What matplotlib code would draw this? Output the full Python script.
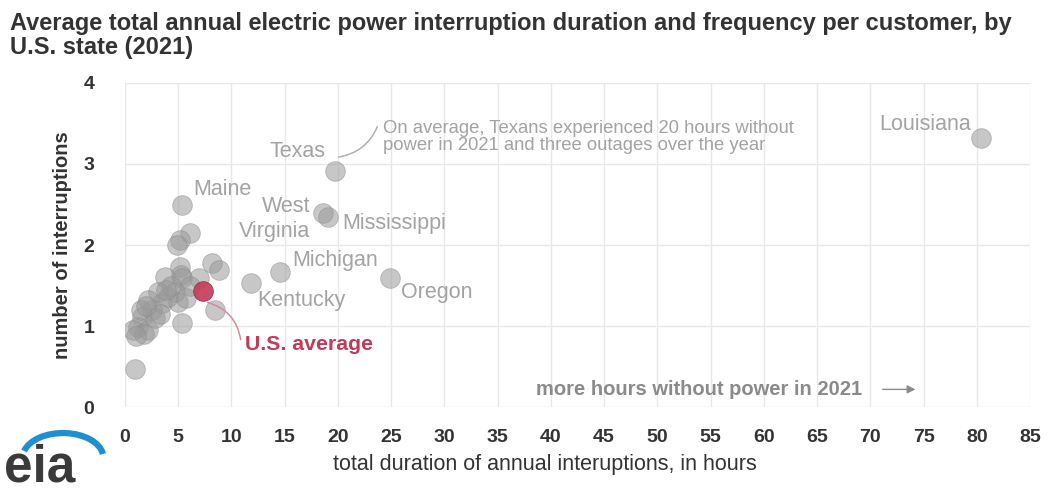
import numpy as np
import matplotlib
matplotlib.use("Agg")
import matplotlib.pyplot as plt
from matplotlib.patches import Arc

plt.rcParams['font.family'] = ['Liberation Sans', 'DejaVu Sans']

# labeled states: hours, interruptions
label_names = ["Louisiana", "Texas", "West\nVirginia", "Mississippi", "Maine",
               "Michigan", "Kentucky", "Oregon"]
label_hours = [80.4, 19.7, 18.6, 19.1, 5.4, 14.6, 11.8, 24.9]
label_counts = [3.32, 2.91, 2.39, 2.35, 2.49, 1.67, 1.53, 1.59]

# remaining states (unlabeled)
other_hours = [6.1, 5.2, 4.9, 5.2, 5.3, 8.2, 8.8, 3.8, 5.4, 7.0, 6.1, 4.7, 3.1,
               2.2, 3.5, 5.0, 8.5, 5.4, 1.6, 1.2, 2.2, 0.75, 2.5, 4.0, 0.9, 1.8,
               2.8, 3.3, 1.5, 4.3, 2.0, 1.0, 3.9, 5.7]
other_counts = [2.15, 2.06, 2.0, 1.73, 1.63, 1.78, 1.69, 1.6, 1.59, 1.59, 1.5,
                1.42, 1.42, 1.32, 1.28, 1.3, 1.2, 1.04, 1.11, 0.99, 0.95, 0.95,
                1.2, 1.36, 0.47, 0.9, 1.1, 1.15, 1.2, 1.5, 1.25, 0.88, 1.45, 1.35]

us_avg = (7.3, 1.43)

x_ticks = np.arange(0, 90, 5)
y_ticks = [0, 1, 2, 3, 4]

GRAY_DOT = "#9a9a9a"
GRAY_TXT = "#a3a3a3"
RED = "#c23a58"

fig = plt.figure(figsize=(10.5, 4.93), dpi=100)
ax = fig.add_axes([0.119, 0.174, 0.862, 0.658])

ax.scatter(other_hours + label_hours, other_counts + label_counts, s=200,
           color=GRAY_DOT, alpha=0.55, edgecolors="#8a8a8a", linewidths=0.6, zorder=3)
ax.scatter([us_avg[0]], [us_avg[1]], s=200, color=RED, alpha=0.9,
           edgecolors="#a02a44", linewidths=0.6, zorder=4)

ax.set_xlim(0, 85)
ax.set_ylim(0, 4)
ax.set_xticks(x_ticks)
ax.set_yticks(y_ticks)
ax.grid(True, color="#e8e8e8", linewidth=1.0, zorder=0)
for s in ax.spines.values():
    s.set_visible(False)
ax.tick_params(length=0, labelsize=14, colors="#333333")
ax.tick_params(axis="x", pad=16)
ax.tick_params(axis="y", pad=22)
for lab in ax.get_xticklabels() + ax.get_yticklabels():
    lab.set_fontweight("bold")

ax.set_xlabel("total duration of annual interuptions, in hours", fontsize=15.5,
              color="#333333")
ax.xaxis.set_label_coords(0.464, -0.145)
ax.set_ylabel("number of interruptions", fontsize=14.5, color="#333333",
              fontweight="bold", labelpad=8)

# state labels
tk = dict(color=GRAY_TXT, fontsize=15.5)
ax.text(16.2, 3.15, "Texas", ha="center", va="center", **tk)
ax.text(6.4, 2.68, "Maine", ha="left", va="center", **tk)
ax.text(17.4, 2.47, "West", ha="right", va="center", **tk)
ax.text(17.4, 2.17, "Virginia", ha="right", va="center", **tk)
ax.text(20.4, 2.27, "Mississippi", ha="left", va="center", **tk)
ax.text(15.7, 1.81, "Michigan", ha="left", va="center", **tk)
ax.text(12.4, 1.31, "Kentucky", ha="left", va="center", **tk)
ax.text(25.9, 1.42, "Oregon", ha="left", va="center", **tk)
ax.text(79.5, 3.49, "Louisiana", ha="right", va="center", **tk)

ax.text(24.2, 3.33, "On average, Texans experienced 20 hours without\n"
        "power in 2021 and three outages over the year",
        ha="left", va="center", color=GRAY_TXT, fontsize=13.3, linespacing=1.0)
ax.annotate("", xy=(19.8, 3.08), xytext=(23.8, 3.49),
            arrowprops=dict(arrowstyle="-", color="#b0b0b0", lw=1.1,
                            connectionstyle="arc3,rad=-0.3"))

ax.text(11.3, 0.77, "U.S. average", ha="left", va="center", color=RED,
        fontsize=15.3, fontweight="bold")
ax.annotate("", xy=(7.5, 1.3), xytext=(10.9, 0.8),
            arrowprops=dict(arrowstyle="-", color="#d88a9a", lw=1.1,
                            connectionstyle="arc3,rad=0.35"))

ax.text(69.2, 0.22, "more hours without power in 2021", ha="right", va="center",
        color="#8a8a8a", fontsize=14.5, fontweight="bold")
ax.annotate("", xy=(74.5, 0.22), xytext=(70.9, 0.22),
            arrowprops=dict(arrowstyle="-|>", color="#8a8a8a", lw=1.0,
                            mutation_scale=12))

fig.text(0.01, 0.975, "Average total annual electric power interruption duration and "
         "frequency per customer, by\nU.S. state (2021)", ha="left", va="top",
         fontsize=17, fontweight="bold", color="#333333", linespacing=1.05)

# eia logo
fig.text(0.004, 0.002, "eia", ha="left", va="bottom", fontsize=37, color="#3a3a3a",
         fontweight="bold")
logo_ax = fig.add_axes([0.0, 0.0, 0.12, 0.16])
logo_ax.set_xlim(0, 1)
logo_ax.set_ylim(0, 1)
logo_ax.axis("off")
logo_ax.add_patch(Arc((0.5, 0.45), 0.64, 0.62, theta1=8, theta2=165,
                      color="#1e8fd0", lw=4.5))

fig.savefig("out.png", dpi=100, facecolor="white")
